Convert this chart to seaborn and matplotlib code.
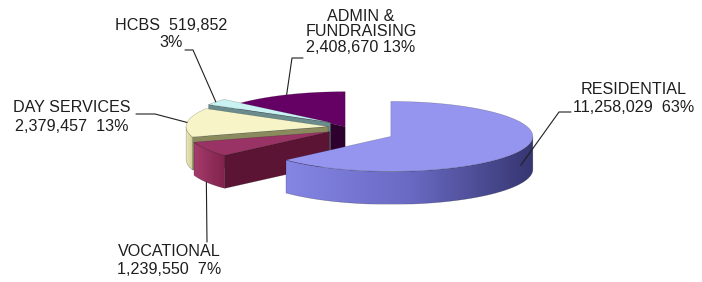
import numpy as np
import matplotlib.pyplot as plt
import seaborn as sns
from matplotlib.patches import Polygon
from matplotlib.colors import LinearSegmentedColormap

sns.set_theme(style="white")
plt.rcParams['font.family'] = ['Liberation Sans', 'DejaVu Sans']

# data (clockwise from 12 o'clock)
categories = ['RESIDENTIAL', 'VOCATIONAL', 'DAY SERVICES', 'HCBS', 'ADMIN &\nFUNDRAISING']
amounts = [11258029, 1239550, 2379457, 519852, 2408670]
pct_labels = [63, 7, 13, 3, 13]

# style
top_colors = ['#9595ef', '#993366', '#f7f5c8', '#c9f2f2', '#650065']
side_colors = [['#8585e4', '#6a6ac4', '#363672'],
               ['#a53c6c', '#80224c'],
               ['#ecebb8', '#cdcb98'],
               ['#a9d2d2', '#7fa3a3'],
               ['#4a004a', '#2a002a']]
cut_colors = ['#2a2a6a', '#5c1435', '#8a8a5e', '#6a8c8c', '#2e002e']
explode = [49, 19, 18, 19, 2]
label_fmt = ['{name}\n{amt}  {pct}%', '{name}\n{amt}  {pct}%', '{name}\n{amt}  {pct}%',
             '{name}  {amt}\n{pct}%', '{name}\n{amt} {pct}%']
label_pos = [(634, 98), (169, 261), (72, 117), (171, 34), (361, 32)]
label_spacing = [1.25, 1.25, 1.3, 1.2, 1.05]
label_elbow = [[(571, 112), (559, 112)], [(207, 242)], [(136, 114), (155, 114)],
               [(185, 50), (193, 50)], [(303, 58), (292, 58)]]
anchor_depth = [0.45, 1.0, 0.0, 0.0, 0.0]
draw_order = [4, 3, 2, 1, 0]

RX, RY, DEPTH = 142, 35, 33
CX, CY = 346, 127.5
TILT = 0.45  # vertical squash applied to the explode offsets

fig = plt.figure(figsize=(7.02, 2.82), dpi=100)
ax = fig.add_axes([0, 0, 1, 1])

total = sum(amounts)
fracs = np.array(amounts) / total
ends = 90 - 360 * np.cumsum(fracs)
starts = np.r_[90, ends[:-1]]
mids = (starts + ends) / 2


def rim(cx, cy, t, dz=0):
    t = np.radians(t)
    return np.column_stack([cx + RX * np.cos(t), cy - RY * np.sin(t) + dz])


def grad_fill(xy, colors, z):
    poly = Polygon(xy, closed=True, facecolor='none', edgecolor='none', zorder=z)
    ax.add_patch(poly)
    x0, y0 = xy.min(0)
    x1, y1 = xy.max(0)
    cmap = LinearSegmentedColormap.from_list('g', colors)
    im = ax.imshow(np.linspace(0, 1, 256).reshape(1, -1), cmap=cmap,
                   extent=(x0, x1, y1, y0), aspect='auto', zorder=z,
                   interpolation='bilinear')
    im.set_clip_path(poly)
    ax.add_patch(Polygon(xy, closed=True, facecolor='none',
                         edgecolor='#00000050', lw=0.4, zorder=z + 0.01))


anchors = []
for k, i in enumerate(draw_order):
    s, e, m = starts[i], ends[i], mids[i]
    cx = CX + explode[i] * np.cos(np.radians(m))
    cy = CY - explode[i] * TILT * np.sin(np.radians(m))
    z = 10 + k * 5
    apex = np.array([[cx, cy]])
    # visible straight cut faces
    for a, vis in ((s, np.cos(np.radians(s)) < -1e-6), (e, np.cos(np.radians(e)) > 1e-6)):
        if vis:
            p = rim(cx, cy, [a])
            face = np.vstack([apex, p, p + [0, DEPTH], apex + [0, DEPTH]])
            ax.add_patch(Polygon(face, closed=True, facecolor=cut_colors[i],
                                 edgecolor='#00000050', lw=0.4, zorder=z))
    # curved outer side, front half only
    lo, hi = max(e, -180), min(s, 0)
    if lo < hi:
        t = np.linspace(hi, lo, 80)
        arc = rim(cx, cy, t)
        side = np.vstack([arc, arc[::-1] + [0, DEPTH]])
        grad_fill(side, side_colors[i], z + 1)
    # top face
    t = np.linspace(s, e, 120)
    top = np.vstack([apex, rim(cx, cy, t)])
    ax.add_patch(Polygon(top, closed=True, facecolor=top_colors[i],
                         edgecolor='#00000040', lw=0.4, zorder=z + 2))
    anchors.append((i, rim(cx, cy, [m], anchor_depth[i] * DEPTH)[0]))

# labels and leader lines
for i, pt in sorted(anchors):
    txt = label_fmt[i].format(name=categories[i], amt=f'{amounts[i]:,}', pct=pct_labels[i])
    ax.text(*label_pos[i], txt, ha='center', va='center', fontsize=11.6,
            color='#1e1e1e', linespacing=label_spacing[i], zorder=60)
    path = np.array(label_elbow[i] + [tuple(pt)])
    ax.plot(path[:, 0], path[:, 1], color='#202020', lw=0.8, zorder=55)

ax.set_xlim(0, 702)
ax.set_ylim(282, 0)
ax.axis('off')
fig.savefig('out.png', dpi=100, facecolor='white')
